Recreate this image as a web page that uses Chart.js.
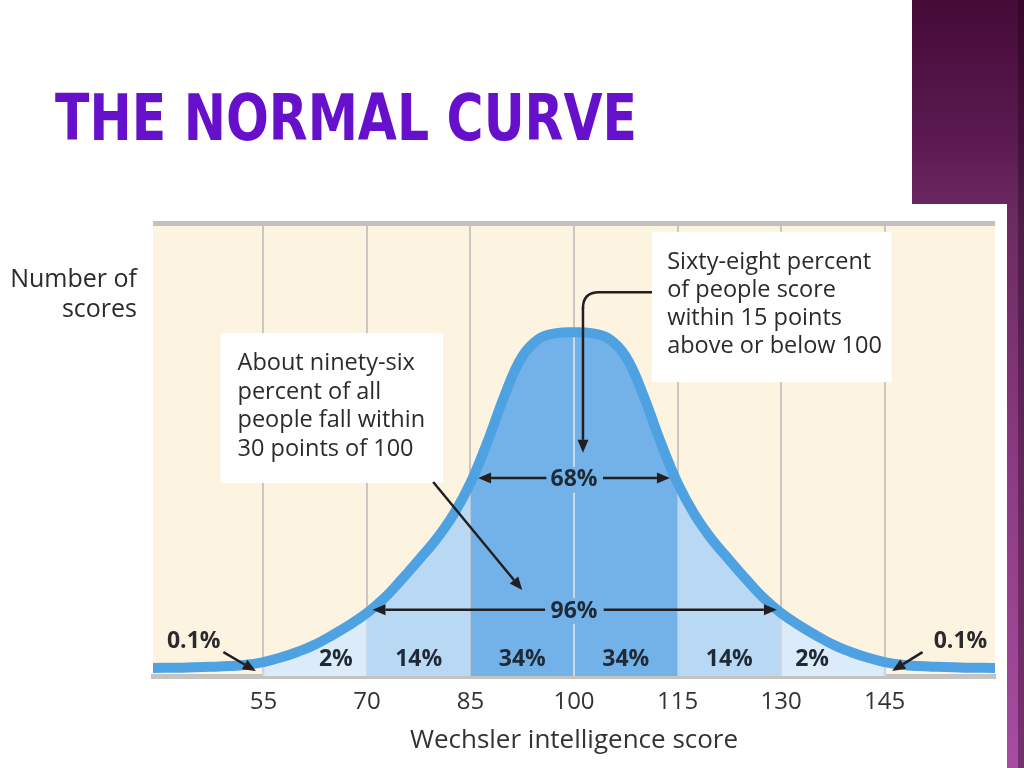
<!DOCTYPE html>
<html>
<head>
<meta charset="utf-8">
<title>The Normal Curve</title>
<script src="https://cdn.jsdelivr.net/npm/chart.js@4.4.1/dist/chart.umd.min.js"></script>
<style>
  html, body { margin: 0; padding: 0; background: #fff; }
  #slide { position: relative; width: 1024px; height: 768px; overflow: hidden; background: #fff; }
  #band {
    position: absolute; left: 912px; top: 0; width: 112px; height: 768px;
    background: linear-gradient(to bottom, #450a36 0%, #5a1a51 18%, #6b2a62 28%, #8a3a82 60%, #a84ca0 100%);
  }
  #bandEdge { position: absolute; left: 1018px; top: 0; width: 6px; height: 768px; background: rgba(25, 0, 20, 0.35); }
  #panel { position: absolute; left: 140px; top: 204px; width: 867px; height: 564px; background: #fff; }
  #title {
    position: absolute; left: 55px; top: 86px; margin: 0;
    font: bold 64px "DejaVu Sans Condensed", "DejaVu Sans", sans-serif; line-height: 64px;
    color: #6610cc; white-space: nowrap; transform-origin: left top;
  }
  #wrap { position: absolute; left: 0; top: 0; width: 1024px; height: 768px; }
</style>
</head>
<body>
<div id="slide">
  <div id="band"></div>
  <div id="bandEdge"></div>
  <div id="panel"></div>
  <h1 id="title">THE NORMAL CURVE</h1>
  <div id="wrap"><canvas id="chart"></canvas></div>
</div>
<script>
// squeeze the title to the width of the original lettering
const titleEl = document.getElementById("title");
titleEl.style.transform = "scaleX(" + (582 / titleEl.getBoundingClientRect().width) + ")";

// score axis and curve height (plot height = 100)
const scores = [39, 42.5, 45, 47.5, 50, 52.5, 55, 57.5, 60, 62.5, 65, 67.5, 70, 72.5, 75, 77.5, 80, 82.5,
  85, 87.5, 90, 92.5, 95, 97.5, 100, 102.5, 105, 107.5, 110, 112.5, 115, 117.5, 120, 122.5, 125, 127.5,
  130, 132.5, 135, 137.5, 140, 142.5, 145, 147.5, 150, 152.5, 155, 157.5, 161];
const heights = [1.8, 1.85, 1.95, 2.05, 2.2, 2.5, 3.1, 4.1, 5.4, 7.0, 9.1, 11.4, 14.0, 17.3, 21.4, 25.8, 30.3, 35.8,
  42.9, 52.2, 62.6, 71.0, 75.0, 76.2, 76.4, 76.2, 75.0, 71.0, 62.6, 52.2, 42.9, 35.8, 30.3, 25.8, 21.4, 17.3,
  14.0, 11.4, 9.1, 7.0, 5.4, 4.1, 3.1, 2.5, 2.2, 2.05, 1.95, 1.85, 1.8];
const xTicks = [55, 70, 85, 100, 115, 130, 145];

// shaded bands under the curve
const bandFrom = [55, 70, 85, 115, 130];
const bandTo = [70, 85, 115, 130, 145];
const bandColors = ["#dcebf9", "#b8d8f4", "#72b2e8", "#b8d8f4", "#dcebf9"];
const bandLabels = ["2%", "14%", "34%", "34%", "14%", "2%"];
const bandLabelX = [65.5, 77.5, 92.5, 107.5, 122.5, 134.5];

const curve = scores.map((s, i) => ({ x: s, y: heights[i] }));

const datasets = [{
  label: "curve",
  data: curve,
  borderColor: "#4ea2e2",
  borderWidth: 10,
  borderCapStyle: "butt",
  tension: 0.4,
  pointRadius: 0,
  fill: false,
  order: 0
}];
bandFrom.forEach((from, i) => {
  datasets.push({
    label: "band" + i,
    data: curve.filter(p => p.x >= from && p.x <= bandTo[i]),
    borderColor: "rgba(0,0,0,0)",
    borderWidth: 0,
    backgroundColor: bandColors[i],
    tension: 0.4,
    pointRadius: 0,
    fill: "origin",
    order: 1
  });
});

function arrow(ctx, x1, y1, x2, y2) {
  const a = Math.atan2(y2 - y1, x2 - x1);
  const len = 13, w = 5.5;
  const bx = x2 - Math.cos(a) * len, by = y2 - Math.sin(a) * len;
  ctx.beginPath();
  ctx.moveTo(x1, y1);
  ctx.lineTo(bx, by);
  ctx.stroke();
  ctx.beginPath();
  ctx.moveTo(x2, y2);
  ctx.lineTo(bx + Math.sin(a) * w, by - Math.cos(a) * w);
  ctx.lineTo(bx - Math.sin(a) * w, by + Math.cos(a) * w);
  ctx.closePath();
  ctx.fill();
}

const decor = {
  id: "decor",
  beforeDraw(chart) {
    const { ctx, chartArea: a } = chart;
    ctx.save();
    ctx.fillStyle = "#fdf3e1";
    ctx.fillRect(a.left, a.top, a.right - a.left, a.bottom - a.top);
    ctx.fillStyle = "#c2c1bf";
    ctx.fillRect(a.left, a.top - 5, a.right - a.left, 5);
    // y axis caption
    ctx.fillStyle = "#2b2b2b";
    ctx.font = '25px "Open Sans"';
    ctx.textAlign = "right";
    ctx.textBaseline = "alphabetic";
    ctx.fillText("Number of", a.left - 16, 287);
    ctx.fillText("scores", a.left - 16, 317);
    ctx.restore();
  },
  beforeDatasetDraw(chart, args) {
    if (args.index !== 0) return;
    // gridlines showing through the shaded area
    const { ctx } = chart;
    const xs = chart.scales.x, ys = chart.scales.y;
    ctx.save();
    ctx.strokeStyle = "#cad9e8";
    ctx.lineWidth = 2;
    [55, 70, 100, 130, 145].forEach(v => {
      const h = heights[scores.indexOf(v)];
      ctx.beginPath();
      ctx.moveTo(xs.getPixelForValue(v), ys.getPixelForValue(0));
      ctx.lineTo(xs.getPixelForValue(v), ys.getPixelForValue(h));
      ctx.stroke();
    });
    ctx.restore();
  },
  afterDatasetsDraw(chart) {
    const { ctx } = chart;
    const xs = chart.scales.x, ys = chart.scales.y;
    const X = v => xs.getPixelForValue(v), Y = v => ys.getPixelForValue(v);
    ctx.save();

    // callout boxes
    ctx.fillStyle = "#ffffff";
    ctx.fillRect(X(48.8), Y(76.2), X(81.05) - X(48.8), Y(42.9) - Y(76.2));
    ctx.fillRect(X(111.3), Y(98.7), X(146) - X(111.3), Y(65.3) - Y(98.7));

    ctx.fillStyle = "#2b2b2b";
    ctx.font = '23.5px "Open Sans"';
    ctx.textAlign = "left";
    ctx.textBaseline = "alphabetic";
    ["About ninety-six", "percent of all", "people fall within", "30 points of 100"]
      .forEach((t, i) => ctx.fillText(t, X(51.25), Y(68) + i * 28.7));
    ["Sixty-eight percent", "of people score", "within 15 points", "above or below 100"]
      .forEach((t, i) => ctx.fillText(t, X(113.5), Y(90.4) + i * 28));

    // arrows
    ctx.strokeStyle = "#231f20";
    ctx.fillStyle = "#231f20";
    ctx.lineWidth = 2.5;
    // from right callout, bending down to the 68% area
    const cx = X(101.3), sy = Y(85.3);
    ctx.beginPath();
    ctx.moveTo(X(111.3), sy);
    ctx.lineTo(cx + 16, sy);
    ctx.quadraticCurveTo(cx, sy, cx, sy + 16);
    ctx.stroke();
    arrow(ctx, cx, sy + 15, cx, Y(49.6));
    // from left callout to the 96% area
    arrow(ctx, X(79.6), Y(43.1), X(92.5), Y(19.1));
    // 68% and 96% spans
    arrow(ctx, X(96), Y(44), X(86.1), Y(44));
    arrow(ctx, X(104.2), Y(44), X(113.9), Y(44));
    arrow(ctx, X(95.8), Y(14.7), X(70.8), Y(14.7));
    arrow(ctx, X(104.3), Y(14.7), X(129.4), Y(14.7));
    // 0.1% pointers
    arrow(ctx, X(49.2), Y(5.3), X(53.9), Y(1.1));
    arrow(ctx, X(150.5), Y(5.3), X(146.1), Y(1.1));

    // percentage labels
    ctx.font = 'bold 23px "Open Sans"';
    ctx.textAlign = "center";
    ctx.textBaseline = "middle";
    [["68%", 43.6], ["96%", 14.4]].forEach(([t, v]) => {
      const w = ctx.measureText(t).width;
      ctx.fillStyle = bandColors[2];
      ctx.fillRect(X(100) - w / 2 - 3, Y(v) - 13, w + 6, 26);
      ctx.fillStyle = "#1f2a36";
      ctx.fillText(t, X(100), Y(v));
    });
    ctx.fillStyle = "#1f2a36";
    bandLabels.forEach((t, i) => ctx.fillText(t, X(bandLabelX[i]), Y(3.6)));
    ctx.fillStyle = "#2b2b2b";
    ctx.fillText("0.1%", X(44.9), Y(7.6));
    ctx.fillText("0.1%", X(156), Y(7.6));
    ctx.restore();
  }
};

Chart.defaults.font.family = '"Open Sans", sans-serif';

new Chart(document.getElementById("chart"), {
  type: "line",
  data: { datasets: datasets },
  plugins: [decor],
  options: {
    responsive: true,
    maintainAspectRatio: false,
    animation: false,
    events: [],
    layout: { padding: { left: 153, right: 29, top: 226, bottom: 0 } },
    plugins: {
      legend: { display: false },
      tooltip: { enabled: false }
    },
    scales: {
      x: {
        type: "linear",
        min: 39,
        max: 161,
        afterBuildTicks: (scale) => {
          scale.ticks = xTicks.map(v => ({ value: v }));
        },
        afterFit: (scale) => {
          scale.height = 92;
        },
        grid: { color: "#cbc7c0", lineWidth: 2, drawTicks: false },
        border: { display: true, color: "#c4c3c0", width: 5 },
        ticks: {
          color: "#333333",
          padding: 12,
          font: { size: 24 },
          maxRotation: 0,
          autoSkip: false
        },
        title: {
          display: true,
          text: "Wechsler intelligence score",
          color: "#333333",
          font: { size: 26 },
          padding: { top: 0, bottom: 12 }
        }
      },
      y: {
        display: false,
        min: 0,
        max: 100
      }
    }
  }
});
</script>
</body>
</html>
